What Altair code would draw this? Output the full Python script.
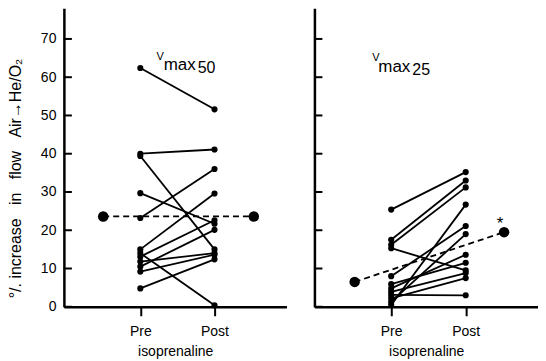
import altair as alt
import pandas as pd

# ---- data ----
y_ticks = [0, 10, 20, 30, 40, 50, 60, 70]
phase_labels = ["Pre", "Post"]

left_pre = [62.4, 40.0, 39.4, 29.7, 23.2, 15.0, 14.0, 13.1, 11.8, 10.5, 9.2, 4.8]
left_post = [51.6, 41.1, 15.0, 21.7, 36.0, 29.6, 0.4, 22.6, 14.0, 20.1, 13.6, 12.4]
left_mean = [23.6, 23.6]

right_pre = [25.4, 17.5, 16.2, 15.3, 8.0, 5.9, 4.8, 3.9, 3.1, 2.2, 1.3, 0.5]
right_post = [35.2, 33.0, 31.2, 9.5, 21.1, 11.5, 13.6, 8.8, 3.0, 7.5, 19.0, 26.7]
right_mean = [6.5, 19.5]

FONT = "Liberation Sans"
X_DOM = [-1.03, 1.97]
Y_DOM = [0, 78]
W_L, W_R, H = 223, 224, 299
SP = "\u00a0\u00a0\u00a0"
Y_TITLE = "°/." + "\u00a0" + "increase" + SP + "in" + SP + "flow" + SP + "Air\u2192He/O\u2082"


def pairs_df(pre, post):
    rows = []
    for i, (a, b) in enumerate(zip(pre, post)):
        rows.append({"s": i, "x": 0, "v": a})
        rows.append({"s": i, "x": 1, "v": b})
    return pd.DataFrame(rows)


def panel(pre, post, means, mean_x, sub, txt_pos, star, show_y, width):
    df = pairs_df(pre, post)
    mdf = pd.DataFrame({"x": mean_x, "v": means})
    xs = alt.Scale(domain=X_DOM, nice=False, zero=False)
    ys = alt.Scale(domain=Y_DOM, nice=False, zero=False)
    xaxis = alt.Axis(values=[0, 1], labelExpr="datum.value == 0 ? 'Pre' : 'Post'",
                     grid=False, tickSize=9, tickWidth=2, domainWidth=2.5,
                     domainColor="black", tickColor="black", labelFontSize=14,
                     labelPadding=9, labelFont=FONT, labelColor="black",
                     titleFont=FONT, titleFontSize=14, titleFontWeight="normal",
                     titlePadding=6, titleColor="black")
    if show_y:
        yaxis = alt.Axis(values=y_ticks, grid=False, ticks=False, tickSize=0,
                         domainWidth=2.5, domainColor="black", labelFontSize=14,
                         labelFont=FONT, labelColor="black", labelPadding=8,
                         titleFont=FONT, titleFontSize=16, titleFontWeight="normal",
                         titleColor="black", titleX=-48, titleY=170, titleAngle=270,
                         titleAlign="center", titleBaseline="middle")
        ytitle = Y_TITLE
    else:
        yaxis = alt.Axis(values=y_ticks, grid=False, ticks=False, labels=False,
                         domainWidth=2.5, domainColor="black")
        ytitle = ""
    X = alt.X("x:Q", scale=xs, axis=xaxis, title="isoprenaline")
    Y = alt.Y("v:Q", scale=ys, axis=yaxis, title=ytitle)

    lines = alt.Chart(df).mark_line(color="black", strokeWidth=1.8).encode(x=X, y=Y, detail="s:N")
    pts = alt.Chart(df).mark_circle(color="black", size=38, opacity=1).encode(x=X, y=Y)
    dash = alt.Chart(mdf).mark_line(color="black", strokeWidth=1.8, strokeDash=[6, 4]).encode(x=X, y=Y)
    mpts = alt.Chart(mdf).mark_circle(color="black", size=110, opacity=1).encode(x=X, y=Y)
    # inward tick marks on the y axis (about 8 px long)
    tick_len = 8.0 / width * (X_DOM[1] - X_DOM[0])
    tdf = pd.DataFrame({"v": y_ticks})
    tdf["x"] = X_DOM[0]
    tdf["xe"] = X_DOM[0] + tick_len
    ticks = alt.Chart(tdf).mark_rule(color="black", strokeWidth=2).encode(
        x=X, x2="xe:Q", y=Y)

    (vx, vy), (mx, my), (sx, sy) = txt_pos
    t_v = alt.Chart(pd.DataFrame({"x": [vx], "v": [vy], "t": ["V"]})).mark_text(
        font=FONT, fontSize=11, align="center", baseline="alphabetic", color="black"
    ).encode(x=X, y=Y, text="t:N")
    t_m = alt.Chart(pd.DataFrame({"x": [mx], "v": [my], "t": ["max"]})).mark_text(
        font=FONT, fontSize=17, align="left", baseline="alphabetic", color="black"
    ).encode(x=X, y=Y, text="t:N")
    t_s = alt.Chart(pd.DataFrame({"x": [sx], "v": [sy], "t": [sub]})).mark_text(
        font=FONT, fontSize=16, align="left", baseline="alphabetic", color="black"
    ).encode(x=X, y=Y, text="t:N")
    layers = [ticks, lines, dash, pts, mpts, t_v, t_m, t_s]
    if star is not None:
        t_star = alt.Chart(pd.DataFrame({"x": [star[0]], "v": [star[1]], "t": ["*"]})).mark_text(
            font=FONT, fontSize=17, align="center", baseline="alphabetic", color="black"
        ).encode(x=X, y=Y, text="t:N")
        layers.append(t_star)
    return alt.layer(*layers)


left = panel(left_pre, left_post, left_mean, [-0.5, 1.53], "50",
             [(0.268, 64.4), (0.315, 61.8), (0.773, 61.0)], None, True, W_L
             ).properties(width=W_L, height=H)
right = panel(right_pre, right_post, right_mean, [-0.49, 1.515], "25",
              [(-0.206, 64.3), (-0.173, 61.3), (0.283, 60.5)], (1.46, 20.3), False, W_R
              ).properties(width=W_R, height=H)

chart = alt.hconcat(left, right, spacing=27).configure(padding=0).configure_view(stroke=None)
chart.save("out.html", embed_options={"renderer": "svg", "actions": False})
